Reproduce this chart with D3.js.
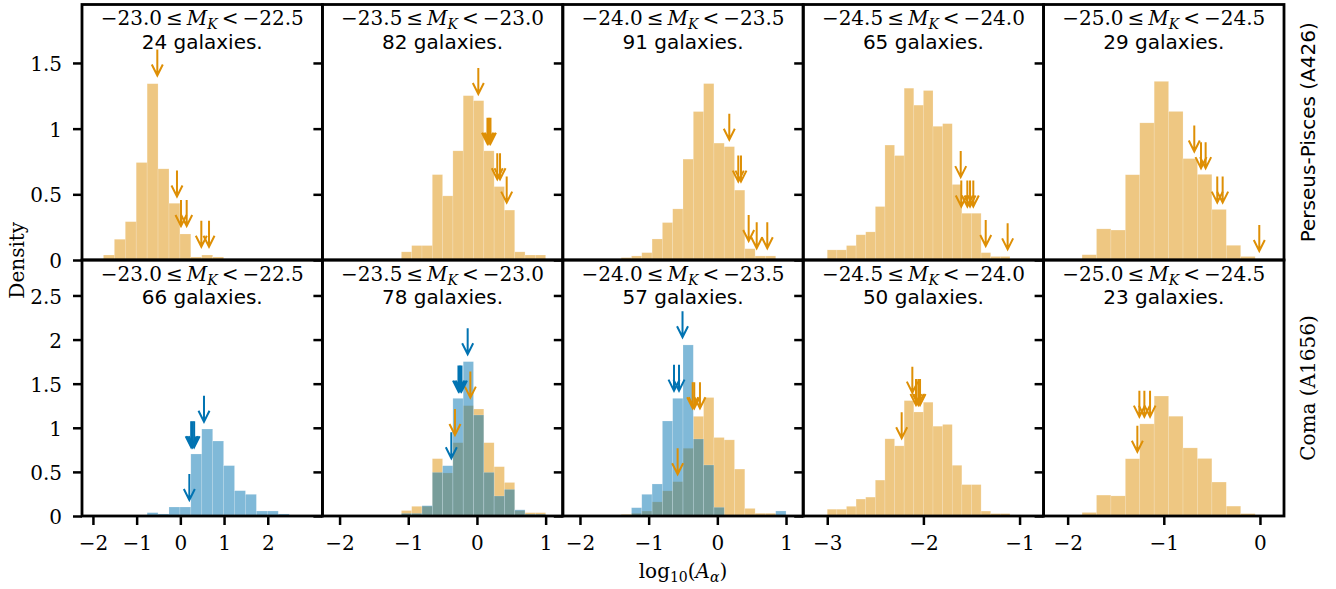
<!DOCTYPE html>
<html><head><meta charset="utf-8">
<script src="https://cdn.jsdelivr.net/npm/d3@7"></script>
<style>body{margin:0;background:#fff}</style>
</head><body>
<svg id="chart" width="1336" height="589"></svg>
<script>
// ---------------- data ----------------
const magLow  = [-23.0, -23.5, -24.0, -24.5, -25.0];
const magHigh = [-22.5, -23.0, -23.5, -24.0, -24.5];
const nPerseus = [24, 82, 91, 65, 29];
const nComa    = [66, 78, 57, 50, 23];
const rowLabels = ["Perseus-Pisces (A426)", "Coma (A1656)"];
const yLabel = "Density";

// histogram bins (first edge and width) per column
const binStart = [-1.76, -1.10, -1.40, -3.00, -1.85];
const binWidth = [0.25, 0.15, 0.15, 0.10, 0.15];

// Perseus-Pisces densities (orange)
const perseusDensity = [
  [0.038, 0.158, 0.292, 0.742, 1.342, 0.694, 0.432, 0.198, 0.023, 0.038, 0.023],
  [0.062, 0.110, 0.110, 0.650, 0.488, 0.831, 1.251, 1.213, 0.831, 0.559, 0.380, 0.062, 0.038, 0.038],
  [0.018, 0.031, 0.056, 0.160, 0.285, 0.389, 0.768, 1.130, 1.343, 0.890, 0.863, 0.532, 0.086, 0.031, 0.031],
  [0.077, 0.077, 0.110, 0.192, 0.214, 0.407, 0.875, 0.795, 1.308, 1.179, 1.290, 1.018, 1.038, 0.575, 0.356, 0.356, 0.056, 0.027, 0.027],
  [0.040, 0.237, 0.228, 0.649, 1.044, 1.360, 1.131, 0.772, 0.652, 0.385, 0.112, 0.027]
];
// orange Perseus reference shown again in the Coma row
const perseusInComaRow = [false, true, true, true, true];

// Coma densities (blue), first three columns
const comaBinStart = [-0.76, -1.10, -1.40];
const comaDensity = [
  [0.038, 0.023, 0.102, 0.102, 0.703, 0.986, 0.850, 0.571, 0.287, 0.246, 0.057, 0.057, 0.023],
  [0.030, 0.030, 0.117, 0.495, 0.570, 1.334, 1.750, 1.145, 0.495, 0.227, 0.302, 0.070, 0.020, 0.020],
  [0, 0.094, 0.246, 0.363, 1.077, 1.334, 1.939, 0.873, 0.578, 0.099, 0, 0, 0, 0, 0, 0.057]
];

// arrows: x position and density at the arrow tip
const topArrowX = [
  [-0.527, -0.077, 0.015, 0.145, 0.480, 0.656],
  [0.020, 0.153, 0.175, 0.197, 0.296, 0.336, 0.433],
  [0.174, 0.305, 0.344, 0.456, 0.573, 0.727],
  [-1.612, -1.606, -1.543, -1.515, -1.481, -1.352, -1.124],
  [-0.683, -0.613, -0.565, -0.444, -0.388, -0.007]
];
const topArrowY = [
  [1.404, 0.483, 0.259, 0.259, 0.101, 0.101],
  [1.264, 0.885, 0.885, 0.885, 0.615, 0.615, 0.437],
  [0.915, 0.597, 0.597, 0.145, 0.089, 0.089],
  [0.631, 0.407, 0.407, 0.407, 0.407, 0.107, 0.081],
  [0.826, 0.699, 0.699, 0.437, 0.437, 0.069]
];
const comaOrangeArrowX = [
  [],
  [-0.320, -0.096],
  [-0.578, -0.359, -0.336, -0.253],
  [-2.226, -2.115, -2.077, -2.053, -2.035],
  [-1.275, -1.254, -1.202, -1.143]
];
const comaOrangeArrowY = [
  [],
  [0.918, 1.342],
  [0.473, 1.221, 1.221, 1.221],
  [0.881, 1.398, 1.259, 1.259, 1.259],
  [0.729, 1.126, 1.126, 1.126]
];
const comaBlueArrowX = [
  [0.206, 0.248, 0.282, 0.316, 0.541],
  [-0.373, -0.269, -0.247, -0.225, -0.135],
  [-0.631, -0.558, -0.507]
];
const comaBlueArrowY = [
  [0.181, 0.779, 0.779, 0.779, 1.069],
  [0.654, 1.410, 1.410, 1.410, 1.833],
  [1.421, 1.421, 2.026]
];

// axes
const xDomains = [[-2.25, 3.25], [-2.25, 1.25], [-2.25, 1.25], [-3.25, -0.75], [-2.25, 0.25]];
const xTicks = [[-2, -1, 0, 1, 2], [-2, -1, 0, 1], [-2, -1, 0, 1], [-3, -2, -1], [-2, -1, 0]];
const yMax = [1.945, 2.902];
const yTicks = [[0, 0.5, 1, 1.5], [0, 0.5, 1, 1.5, 2, 2.5]];

// ---------------- drawing ----------------
const svg = d3.select("#chart");
const W = 1336, H = 589;
svg.append("rect").attr("width", W).attr("height", H).attr("fill", "#fff");

const left = 82, right = 1284, pw = (right - left) / 5;
const rowY = [[4.5, 260], [260, 516]];
const ORANGE = "#DE8F05", BLUE = "#0173B2";
const SERIF = "'DejaVu Serif', serif", SANS = "'DejaVu Sans', sans-serif";
const FS = 20;
const num = v => (v < 0 ? "\u2212" : "") + Math.abs(v);
const mag = v => (v < 0 ? "\u2212" : "") + Math.abs(v).toFixed(1);

function arrowPath(px, py) {
  const L = 26, hl = 11, hw = 5.5;
  return `M${px},${py - L}L${px},${py}M${px - hw},${py - hl}L${px},${py}L${px + hw},${py - hl}`;
}

for (let r = 0; r < 2; r++) {
  for (let c = 0; c < 5; c++) {
    const x0 = left + c * pw, x1 = x0 + pw;
    const [yt, yb] = rowY[r];
    const xs = d3.scaleLinear().domain(xDomains[c]).range([x0, x1]);
    const ys = d3.scaleLinear().domain([0, yMax[r]]).range([yb, yt]);
    const g = svg.append("g");

    const hist = (start, w, vals, color) => {
      const bars = vals.map((v, i) => ({ a: start + i * w, b: start + (i + 1) * w, v })).filter(d => d.v > 0);
      g.append("g").selectAll("rect").data(bars).join("rect")
        .attr("x", d => xs(d.a)).attr("width", d => xs(d.b) - xs(d.a))
        .attr("y", d => ys(d.v)).attr("height", d => ys(0) - ys(d.v))
        .attr("fill", color).attr("fill-opacity", 0.5)
        .attr("stroke", "#fff").attr("stroke-opacity", 0.3).attr("stroke-width", 0.6);
    };
    const arrows = (xsArr, ysArr, color) => {
      g.append("g").selectAll("path").data(xsArr.map((x, i) => ({ x, y: ysArr[i] }))).join("path")
        .attr("d", d => arrowPath(xs(d.x), ys(d.y)))
        .attr("fill", "none").attr("stroke", color).attr("stroke-width", 2)
        .attr("stroke-linejoin", "miter");
    };

    if (r === 0 || perseusInComaRow[c]) hist(binStart[c], binWidth[c], perseusDensity[c], ORANGE);
    if (r === 1 && c < comaDensity.length) hist(comaBinStart[c], binWidth[c], comaDensity[c], BLUE);

    if (r === 0) arrows(topArrowX[c], topArrowY[c], ORANGE);
    else {
      arrows(comaOrangeArrowX[c], comaOrangeArrowY[c], ORANGE);
      if (c < comaBlueArrowX.length) arrows(comaBlueArrowX[c], comaBlueArrowY[c], BLUE);
    }

    // y axis (ticks on every panel, labels only on the first column)
    const ya = g.append("g").attr("transform", `translate(${x0},0)`)
      .call(d3.axisLeft(ys).tickValues(yTicks[r]).tickSize(9).tickPadding(11).tickSizeOuter(0)
        .tickFormat(c === 0 ? num : () => ""));
    ya.select(".domain").remove();
    ya.attr("font-family", SERIF).attr("font-size", FS);
    ya.selectAll(".tick line").attr("stroke", "#000").attr("stroke-width", 2.5);
    ya.selectAll(".tick text").attr("dy", "0.38em").attr("fill", "#000");

    if (r === 1) {
      const xa = g.append("g").attr("transform", `translate(0,${yb})`)
        .call(d3.axisBottom(xs).tickValues(xTicks[c]).tickSize(9).tickPadding(11).tickSizeOuter(0).tickFormat(num));
      xa.select(".domain").remove();
      xa.attr("font-family", SERIF).attr("font-size", FS);
      xa.selectAll(".tick line").attr("stroke", "#000").attr("stroke-width", 2.5);
      xa.selectAll(".tick text").attr("fill", "#000");
    }

    // frame
    g.append("rect").attr("x", x0).attr("y", yt).attr("width", pw).attr("height", yb - yt)
      .attr("fill", "none").attr("stroke", "#000").attr("stroke-width", 2.8);

    // titles
    const cx = (x0 + x1) / 2;
    const t1 = g.append("text").attr("x", cx).attr("y", yt + 20.5).attr("text-anchor", "middle")
      .attr("font-family", SERIF).attr("font-size", FS).attr("fill", "#000");
    t1.append("tspan").text(`${mag(magLow[c])}\u2009\u2264\u2009`);
    t1.append("tspan").attr("font-style", "italic").text("M");
    t1.append("tspan").attr("font-style", "italic").attr("font-size", 14).attr("dy", 4).text("K");
    t1.append("tspan").attr("dy", -4).text(`\u2009<\u2009${mag(magHigh[c])}`);
    g.append("text").attr("x", cx).attr("y", yt + 44).attr("text-anchor", "middle")
      .attr("font-family", SANS).attr("font-size", FS).attr("fill", "#000")
      .text(`${r === 0 ? nPerseus[c] : nComa[c]} galaxies.`);
  }
}

// row labels
svg.append("text").attr("transform", `translate(1315,${(rowY[0][0] + rowY[0][1]) / 2}) rotate(-90)`)
  .attr("text-anchor", "middle").attr("font-family", SANS).attr("font-size", FS).text(rowLabels[0]);
svg.append("text").attr("transform", `translate(1315,${(rowY[1][0] + rowY[1][1]) / 2}) rotate(-90)`)
  .attr("text-anchor", "middle").attr("font-family", SERIF).attr("font-size", FS).text(rowLabels[1]);

// y label
svg.append("text").attr("transform", `translate(24,${(rowY[0][0] + rowY[1][1]) / 2}) rotate(-90)`)
  .attr("text-anchor", "middle").attr("font-family", SERIF).attr("font-size", FS).text(yLabel);

// x label
const xl = svg.append("text").attr("x", (left + right) / 2).attr("y", 578).attr("text-anchor", "middle")
  .attr("font-family", SERIF).attr("font-size", FS);
xl.append("tspan").text("log");
xl.append("tspan").attr("font-size", 14).attr("dy", 4).text("10");
xl.append("tspan").attr("dy", -4).text("(");
xl.append("tspan").attr("font-style", "italic").text("A");
xl.append("tspan").attr("font-style", "italic").attr("font-size", 14).attr("dy", 4).text("\u03b1");
xl.append("tspan").attr("dy", -4).text(")");
</script>
</body></html>
